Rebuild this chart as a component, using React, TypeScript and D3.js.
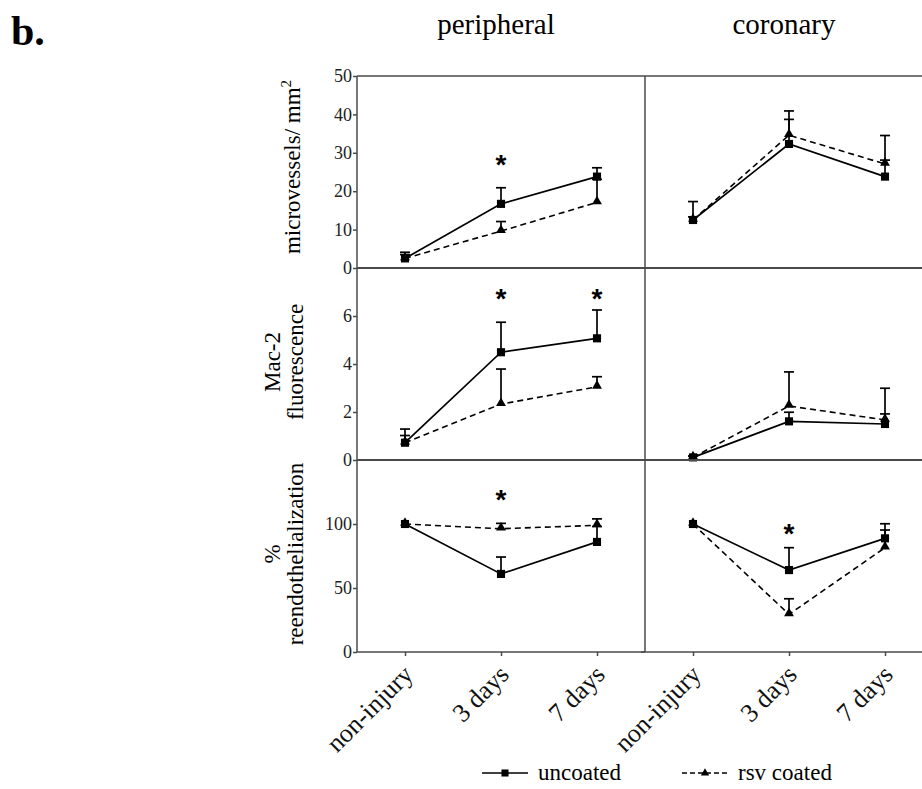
import React, { useEffect, useRef } from 'react';
import * as d3 from 'd3';

const categories = ['non-injury', '3 days', '7 days'];
const regions = ['peripheral', 'coronary'];
const seriesNames = ['uncoated', 'rsv coated'];

// microvessels / mm2
const microUncoatedPeripheral = [2.5, 16.7, 23.8];
const microUncoatedPeripheralErr = [1.6, 4.2, 2.3];
const microRsvPeripheral = [2.5, 9.6, 17.1];
const microRsvPeripheralErr = [1.0, 2.5, 6.0];
const microUncoatedCoronary = [12.5, 32.3, 23.8];
const microUncoatedCoronaryErr = [4.8, 6.4, 4.3];
const microRsvCoronary = [12.5, 34.6, 27.1];
const microRsvCoronaryErr = [0.8, 6.3, 7.4];

// Mac-2 fluorescence
const macUncoatedPeripheral = [0.72, 4.49, 5.07];
const macUncoatedPeripheralErr = [0.57, 1.25, 1.18];
const macRsvPeripheral = [0.72, 2.33, 3.05];
const macRsvPeripheralErr = [0.3, 1.46, 0.42];
const macUncoatedCoronary = [0.11, 1.61, 1.5];
const macUncoatedCoronaryErr = [0.05, 0.38, 0.42];
const macRsvCoronary = [0.11, 2.25, 1.67];
const macRsvCoronaryErr = [0.05, 1.42, 1.32];

// % reendothelialization
const reendoUncoatedPeripheral = [100, 61, 86];
const reendoUncoatedPeripheralErr = [0, 13.2, 12];
const reendoRsvPeripheral = [100, 96.3, 99];
const reendoRsvPeripheralErr = [0, 4.2, 5];
const reendoUncoatedCoronary = [100, 64, 88.8];
const reendoUncoatedCoronaryErr = [0, 17.5, 11.4];
const reendoRsvCoronary = [100, 29.4, 81.5];
const reendoRsvCoronaryErr = [0, 12.2, 13.8];

const microTicks = [0, 10, 20, 30, 40, 50];
const macTicks = [0, 2, 4, 6];
const reendoTicks = [0, 50, 100];

// significance marks: row, region, category, height in data units
const asterisks = [
  { row: 0, region: 'peripheral', cat: '3 days', value: 28.4 },
  { row: 1, region: 'peripheral', cat: '3 days', value: 6.96 },
  { row: 1, region: 'peripheral', cat: '7 days', value: 6.96 },
  { row: 2, region: 'peripheral', cat: '3 days', value: 123.4 },
  { row: 2, region: 'coronary', cat: '3 days', value: 96.9 },
];

const rows = [
  {
    domain: [0, 50], ticks: microTicks, label: ['microvessels/ mm'], sup: '2',
    data: {
      peripheral: [[microUncoatedPeripheral, microUncoatedPeripheralErr], [microRsvPeripheral, microRsvPeripheralErr]],
      coronary: [[microUncoatedCoronary, microUncoatedCoronaryErr], [microRsvCoronary, microRsvCoronaryErr]],
    },
  },
  {
    domain: [0, 8], ticks: macTicks, label: ['Mac-2', 'fluorescence'], sup: '',
    data: {
      peripheral: [[macUncoatedPeripheral, macUncoatedPeripheralErr], [macRsvPeripheral, macRsvPeripheralErr]],
      coronary: [[macUncoatedCoronary, macUncoatedCoronaryErr], [macRsvCoronary, macRsvCoronaryErr]],
    },
  },
  {
    domain: [0, 150], ticks: reendoTicks, label: ['%', 'reendothelialization'], sup: '',
    data: {
      peripheral: [[reendoUncoatedPeripheral, reendoUncoatedPeripheralErr], [reendoRsvPeripheral, reendoRsvPeripheralErr]],
      coronary: [[reendoUncoatedCoronary, reendoUncoatedCoronaryErr], [reendoRsvCoronary, reendoRsvCoronaryErr]],
    },
  },
];

const App = () => {
  const svgRef = useRef<SVGSVGElement>(null);

  useEffect(() => {
    const svg = d3.select(svgRef.current);
    svg.selectAll('*').remove();

    const width = 922;
    const height = 789;
    const font = '"Liberation Serif", serif';
    const left = 357, mid = 645, right = 933, top = 76, rowH = 192;
    const bottom = top + 3 * rowH;
    const frame = '#4a4a4a';

    svg.attr('width', width).attr('height', height);

    const x: Record<string, d3.ScalePoint<string>> = {
      peripheral: d3.scalePoint<string>().domain(categories).range([left, mid]).padding(0.5),
      coronary: d3.scalePoint<string>().domain(categories).range([mid, right]).padding(0.5),
    };

    const square = d3.symbol().type(d3.symbolSquare).size(66);
    const triangle = d3.symbol().type(d3.symbolTriangle).size(42);

    // panel label and column titles
    svg.append('text').attr('x', 11).attr('y', 45)
      .attr('font-family', font).attr('font-weight', 'bold').attr('font-size', 42).text('b.');
    regions.forEach(r => {
      svg.append('text').attr('x', x[r]('3 days')! - 5).attr('y', 34)
        .attr('text-anchor', 'middle').attr('font-family', font).attr('font-size', 29).text(r);
    });

    rows.forEach((row, i) => {
      const y = d3.scaleLinear().domain(row.domain).range([top + (i + 1) * rowH, top + i * rowH]);

      const ag = svg.append('g').attr('transform', `translate(${left},0)`)
        .call(d3.axisLeft(y).tickValues(row.ticks).tickSize(4).tickPadding(1).tickFormat(d3.format('d')));
      ag.select('.domain').remove();
      ag.selectAll('line').attr('stroke', frame).attr('stroke-width', 1.5);
      ag.selectAll('text').attr('font-family', font).attr('font-size', 18).attr('fill', '#222');

      // small ticks on the coronary side
      svg.append('line').attr('x1', mid - 4).attr('x2', mid)
        .attr('y1', y(row.domain[0])).attr('y2', y(row.domain[0]))
        .attr('stroke', frame).attr('stroke-width', 1.5);

      // y label
      const yc = (y.range()[0] + y.range()[1]) / 2 - (row.sup ? 5 : 2);
      row.label.forEach((line, j) => {
        const bx = row.label.length === 1 ? 300 : 280 + j * 23;
        const t = svg.append('text')
          .attr('transform', `translate(${bx},${yc}) rotate(-90)`)
          .attr('text-anchor', 'middle').attr('font-family', font).attr('font-size', 23)
          .text(line);
        if (row.sup) {
          t.append('tspan').attr('font-size', 15).attr('dy', -9).text(row.sup);
        }
      });

      regions.forEach(r => {
        const sx = x[r];
        const [unc, rsv] = row.data[r];
        const line = d3.line<number>().x((d, k) => sx(categories[k])!).y(d => y(d));

        const g = svg.append('g');
        g.append('path').attr('d', line(rsv[0])).attr('fill', 'none')
          .attr('stroke', '#000').attr('stroke-width', 1.6).attr('stroke-dasharray', '6,4');
        g.append('path').attr('d', line(unc[0])).attr('fill', 'none')
          .attr('stroke', '#000').attr('stroke-width', 1.7);

        [unc, rsv].forEach(([vals, errs]) => {
          vals.forEach((v, k) => {
            if (!errs[k]) return;
            const cx = sx(categories[k])!;
            const yt = y(v + errs[k]);
            g.append('line').attr('x1', cx).attr('x2', cx).attr('y1', y(v)).attr('y2', yt)
              .attr('stroke', '#000').attr('stroke-width', 1.7);
            g.append('line').attr('x1', cx - 5).attr('x2', cx + 5).attr('y1', yt).attr('y2', yt)
              .attr('stroke', '#000').attr('stroke-width', 1.7);
          });
        });

        rsv[0].forEach((v, k) => {
          g.append('path').attr('d', triangle()).attr('fill', '#000')
            .attr('transform', `translate(${sx(categories[k])},${y(v) - 1})`);
        });
        unc[0].forEach((v, k) => {
          g.append('path').attr('d', square()).attr('fill', '#000')
            .attr('transform', `translate(${sx(categories[k])},${y(v)})`);
        });
      });

      asterisks.filter(a => a.row === i).forEach(a => {
        svg.append('text').attr('x', x[a.region](a.cat)!).attr('y', y(a.value) + 15)
          .attr('text-anchor', 'middle').attr('font-family', '"Liberation Sans", sans-serif')
          .attr('font-weight', 'bold').attr('font-size', 28).text('*');
      });
    });

    // frame
    [0, 1, 2, 3].forEach(k => {
      svg.append('line').attr('x1', left).attr('x2', width).attr('y1', top + k * rowH).attr('y2', top + k * rowH)
        .attr('stroke', frame).attr('stroke-width', k === 0 || k === 3 ? 1.5 : 2);
    });
    [left, mid].forEach(vx => {
      svg.append('line').attr('x1', vx).attr('x2', vx).attr('y1', top).attr('y2', bottom)
        .attr('stroke', frame).attr('stroke-width', 1.5);
    });

    // x axes
    regions.forEach(r => {
      const xg = svg.append('g').attr('transform', `translate(0,${bottom})`)
        .call(d3.axisBottom(x[r]).tickSize(4).tickSizeOuter(0));
      xg.select('.domain').remove();
      xg.selectAll('line').attr('stroke', frame).attr('stroke-width', 1.5);
      xg.selectAll('text')
        .attr('font-family', font).attr('font-size', 26).attr('fill', '#111')
        .attr('text-anchor', 'end').attr('x', null).attr('y', null).attr('dy', null)
        .attr('transform', 'translate(9,24) rotate(-45)');
    });

    // legend
    const legend = svg.append('g').attr('transform', 'translate(0,773)');
    seriesNames.forEach((name, k) => {
      const lx = k === 0 ? 482 : 682;
      legend.append('line').attr('x1', lx).attr('x2', lx + 46).attr('y1', 0).attr('y2', 0)
        .attr('stroke', '#000').attr('stroke-width', 1.6)
        .attr('stroke-dasharray', k === 0 ? null : '5,3');
      legend.append('path').attr('d', (k === 0 ? d3.symbol().type(d3.symbolSquare).size(50) : d3.symbol().type(d3.symbolTriangle).size(30))())
        .attr('transform', `translate(${lx + 23},0)`).attr('fill', '#000');
      legend.append('text').attr('x', lx + 56).attr('y', 7)
        .attr('font-family', font).attr('font-size', 23).text(name);
    });
  }, []);

  return (
    <div style={{ position: 'absolute', left: 0, top: 0, background: '#fff' }}>
      <svg ref={svgRef} style={{ display: 'block' }} />
    </div>
  );
};

export default App;
